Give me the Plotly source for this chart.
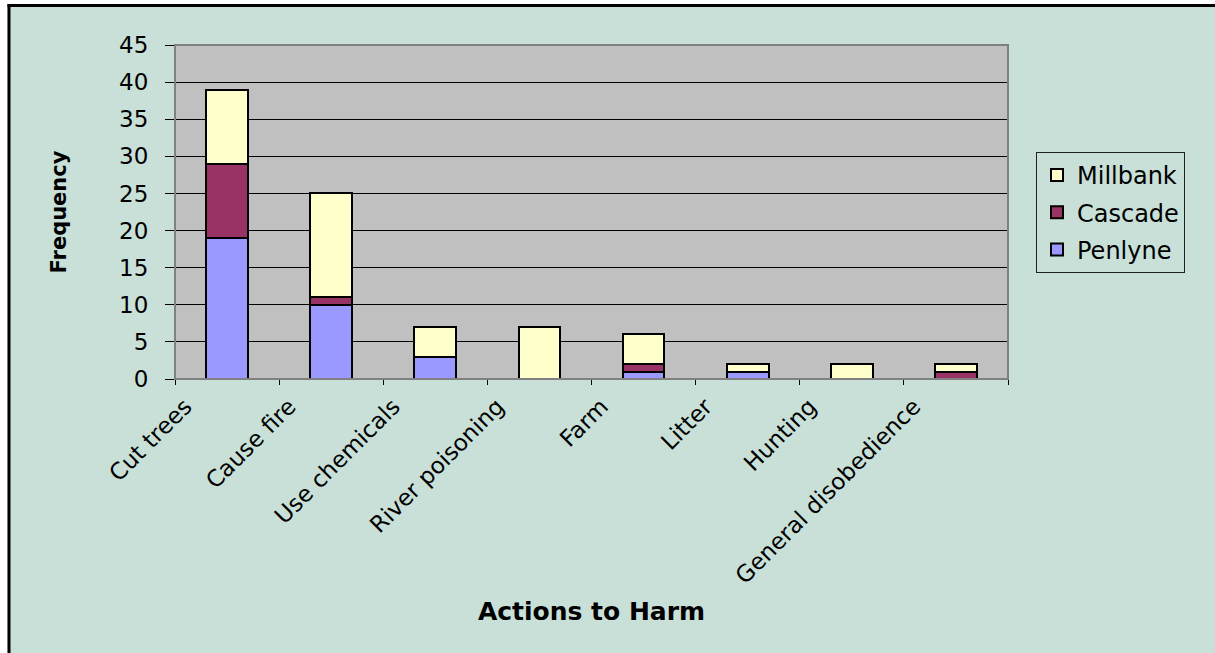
import plotly.graph_objects as go

# Survey counts of actions that harm the forest, by school
categories = ["Cut trees", "Cause fire", "Use chemicals", "River poisoning",
              "Farm", "Litter", "Hunting", "General disobedience"]
penlyne = [19, 10, 3, 0, 1, 1, 0, 0]
cascade = [10, 1, 0, 0, 1, 0, 0, 1]
millbank = [10, 14, 4, 7, 4, 1, 2, 1]

series_names = ["Penlyne", "Cascade", "Millbank"]
series_values = [penlyne, cascade, millbank]
series_colors = ["#9999FF", "#993366", "#FFFFCC"]

y_ticks = list(range(0, 46, 5))

# figure geometry (pixels)
W, H = 1215, 653
L, R, T, B = 175, 207, 45, 274
PW, PH = W - L - R, H - T - B
BG = "#C8E0D8"
FONT = "DejaVu Sans"


def px_x(px):
    return (px - L) / PW


def px_y(py):
    return (H - B - py) / PH


fig = go.Figure()
n = len(series_names)
for i, (name, vals, col) in enumerate(zip(series_names, series_values, series_colors)):
    fig.add_trace(go.Bar(
        x=categories,
        y=[v if v else None for v in vals],
        name=name,
        legendgroup=name,
        legendrank=n - i,  # top of the stack listed first
        marker=dict(color=col, line=dict(color="black", width=2)),
    ))

shapes = [
    # white strips outside the chart frame
    dict(type="rect", xref="paper", yref="paper", x0=px_x(-10), x1=px_x(7.5),
         y0=px_y(H + 10), y1=px_y(-10), fillcolor="white", line_width=0, layer="below"),
    dict(type="rect", xref="paper", yref="paper", x0=px_x(-10), x1=px_x(W + 10),
         y0=px_y(4), y1=px_y(-10), fillcolor="white", line_width=0, layer="below"),
    # chart frame (left and top edges)
    dict(type="line", xref="paper", yref="paper", x0=px_x(9), x1=px_x(9),
         y0=px_y(4), y1=px_y(H + 10), line=dict(color="black", width=3)),
    dict(type="line", xref="paper", yref="paper", x0=px_x(7.5), x1=px_x(W + 10),
         y0=px_y(5.5), y1=px_y(5.5), line=dict(color="black", width=3)),
    # plot area border
    dict(type="rect", xref="paper", yref="paper", x0=0, x1=1, y0=0, y1=1,
         line=dict(color="#808080", width=2), layer="above"),
]

fig.update_layout(
    width=W, height=H,
    margin=dict(l=L, r=R, t=T, b=B, autoexpand=False),
    paper_bgcolor=BG,
    plot_bgcolor="#C0C0C0",
    barmode="stack",
    bargap=0.6,
    font=dict(family=FONT, color="black", size=23),
    shapes=shapes,
    showlegend=True,
    legend=dict(
        x=px_x(1036), y=px_y(152), xanchor="left", yanchor="top",
        traceorder="grouped",
        bgcolor=BG, bordercolor="#202020", borderwidth=1,
        font=dict(family=FONT, size=24, color="black"),
        itemwidth=30,
        tracegroupgap=3,
    ),
    xaxis=dict(
        type="category",
        tickangle=-45,
        tickson="boundaries",
        ticks="outside", ticklen=5, tickcolor="black",
        showline=True, linecolor="black", linewidth=1,
        showgrid=False,
        tickfont=dict(family=FONT, size=23, color="black"),
        ticklabelshift=-42,
        ticklabelstandoff=4,
        title=dict(text="<b>Actions to Harm</b>", font=dict(family=FONT, size=25),
                   standoff=14),
        automargin=False,
    ),
    yaxis=dict(
        range=[0, 45],
        tickvals=y_ticks,
        ticks="outside", ticklen=9, tickcolor="black",
        showline=True, linecolor="black", linewidth=1,
        showgrid=True, gridcolor="black", gridwidth=1,
        zeroline=False,
        tickfont=dict(family=FONT, size=23, color="black"),
        ticklabelstandoff=12,
        title=dict(text="<b>Frequency</b>", font=dict(family=FONT, size=21),
                   standoff=46),
        automargin=False,
    ),
)

fig.write_html("out.html")
